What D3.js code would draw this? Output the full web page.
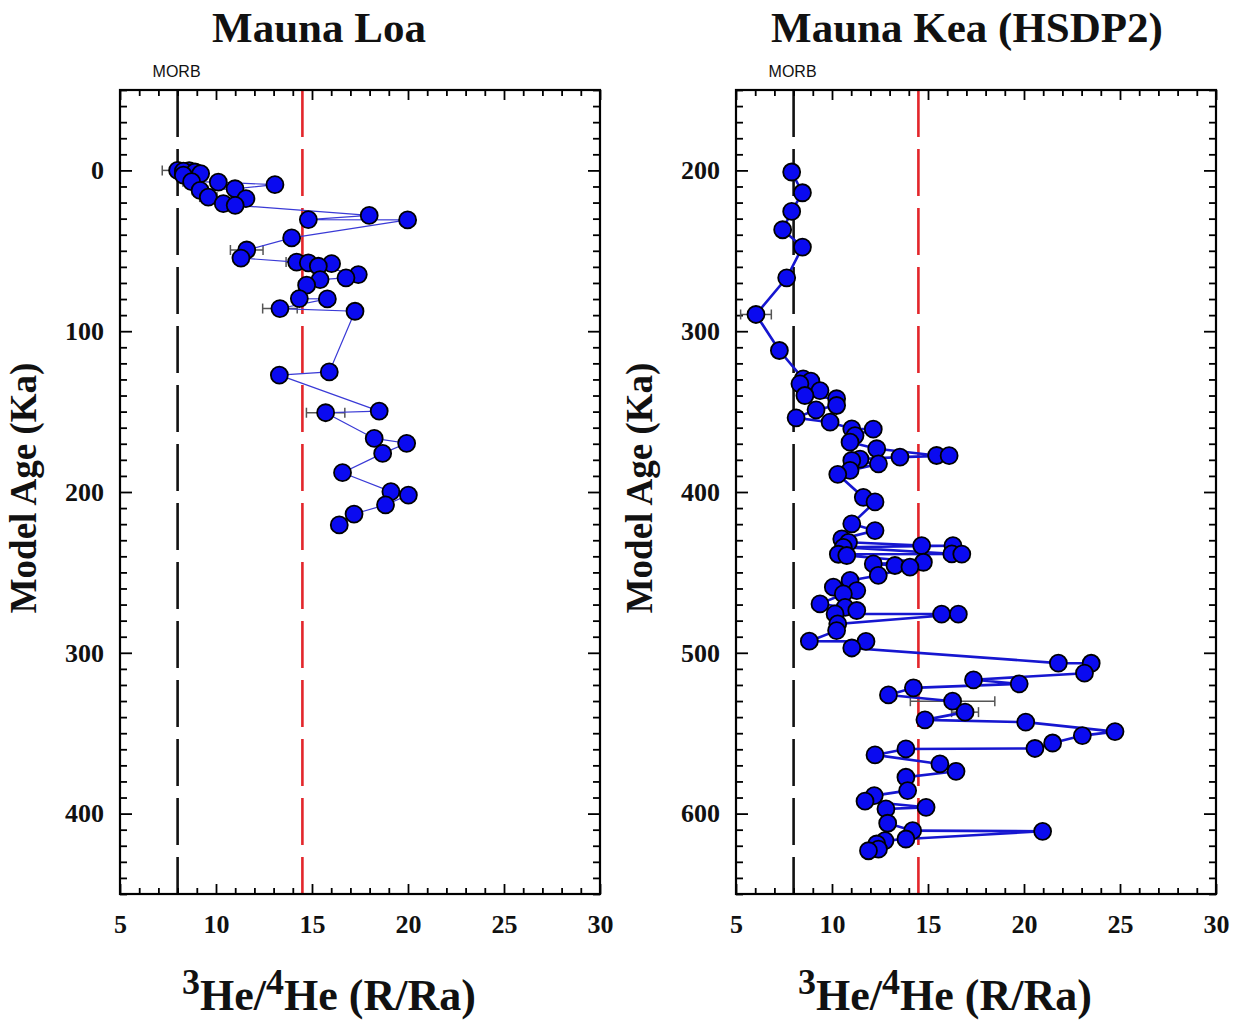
<!DOCTYPE html>
<html><head><meta charset="utf-8">
<script src="https://cdn.jsdelivr.net/npm/d3@7"></script>
<style>body{margin:0;background:#fff}</style>
</head><body>
<svg id="c" width="1237" height="1020"></svg>
<script>
// ---------- data ----------
const xTicks = [5, 10, 15, 20, 25, 30];
const loaAgeTicks = [0, 100, 200, 300, 400];
const keaAgeTicks = [200, 300, 400, 500, 600];
const morbValue = 8;
const plumeValue = 14.5;

// Mauna Loa: 3He/4He (R/Ra), model age (ka), error (R/Ra, 0 = none)
const loaRatio = [8.0, 8.6, 8.3, 8.9, 9.2, 8.3, 8.73, 10.12, 13.07, 10.99, 9.17, 9.6, 11.56, 10.38, 11.0,
  17.98, 14.81, 19.98, 13.94, 11.6, 11.3, 14.2, 14.81, 16.02, 15.33, 17.41, 16.77, 15.42, 14.72, 14.34, 15.8,
  13.33, 17.24, 15.9, 13.3, 18.5, 15.71, 18.24, 19.93, 18.68, 16.59, 19.11, 20.02, 18.83, 17.19, 16.42];
const loaAge = [0, 0.2, 0.5, 1, 2, 3, 7, 7.3, 8.9, 11.4, 12.4, 16.6, 17.6, 20.7, 21.7,
  28, 30.6, 30.8, 42, 49.5, 54.5, 57, 57.5, 58, 59.6, 64.8, 66.8, 67.9, 71.4, 79.7, 79.9,
  85.9, 87.6, 125.3, 127.3, 149.7, 150.7, 166.7, 169.7, 176, 188, 199.8, 201.9, 208, 213.7, 220.5];
const loaErr = [0.8, 0, 0, 0, 0, 0, 0.45, 0, 0, 0, 0.4, 0.45, 0, 0, 0,
  0, 0, 0, 0, 0.85, 0, 0.55, 0, 0, 0, 0, 0, 0, 0.4, 0, 0,
  0.9, 0, 0, 0, 0, 1.0, 0, 0, 0, 0, 0, 0, 0, 0, 0];

// Mauna Kea (HSDP2)
const keaRatio = [7.9, 8.46, 7.9, 7.43, 8.46, 7.64, 6.04, 7.26, 8.5, 8.9, 8.33, 9.375, 8.59, 10.24, 10.24,
  9.17, 8.13, 9.9, 11.03, 12.15, 11.2, 10.94, 12.33, 15.45, 16.1, 13.54, 11.46, 11.03, 12.42, 10.94,
  10.3, 11.63, 12.24, 11.03, 12.24, 10.51, 10.86, 14.67, 16.3, 10.59, 16.24, 16.76, 10.33, 10.77, 14.76,
  12.15, 13.28, 14.06, 12.41, 10.94, 10.07, 11.29, 10.59, 9.375, 10.68, 11.29, 10.16, 15.71, 16.58, 10.3,
  10.24, 8.82, 11.77, 11.03, 21.79, 23.5, 23.15, 17.37, 19.75, 14.24, 12.94, 16.28, 16.93, 14.84, 20.09,
  24.74, 23.04, 21.49, 20.57, 13.85, 12.24, 15.62, 16.46, 13.85, 13.94, 12.2, 11.72, 14.9, 12.81, 12.9,
  14.2, 20.97, 13.85, 12.76, 12.33, 12.42, 11.9];
const keaAge = [201, 213.9, 225.5, 236.9, 247.7, 266.8, 289.6, 312, 329.6, 331, 332.7, 336.9, 340, 342, 346.2,
  348.9, 353.9, 356.6, 360.7, 360.9, 364.9, 369, 373.1, 377.3, 377.4, 378.3, 379.5, 380.4, 382.5, 386.6,
  389, 403.3, 406.2, 419.8, 424, 429.2, 431.3, 433.3, 433.4, 434.4, 438.5, 438.6, 438.7, 439.5, 443.7,
  444.7, 445.7, 446.7, 451.9, 455, 459.2, 461.3, 463.4, 469.6, 471.7, 473.7, 475.8, 475.9, 476, 482,
  486.2, 492.8, 492.9, 497, 506.4, 506.5, 512.7, 516.8, 519.3, 521.8, 526.2, 530.1, 536.9, 541.7, 543.1,
  549, 551.5, 556.1, 559.5, 559.8, 563.5, 569.1, 573.7, 577.4, 585.7, 588.8, 592.3, 596.1, 597.1, 606,
  610.6, 611, 615.8, 616.8, 618.9, 622.1, 623.1];
const keaErr = keaAge.map((a) => a === 289.6 ? 0.8 : a === 312 ? 0.3 : a === 530.1 ? 2.2 : a === 536.9 ? 0.7 : a === 247.7 ? 0.25 : 0);

// ---------- drawing ----------
const svg = d3.select("#c");
const serif = "'Liberation Serif','Times New Roman',serif";
const sans = "'Liberation Sans',Arial,sans-serif";

const panels = [
  {title: "Mauna Loa", left: 120, right: 600, top: 90, bottom: 894, yDomain: [-50, 450], yTicks: loaAgeTicks,
   ratio: loaRatio, age: loaAge, err: loaErr, lineW: 1.2, lineC: "#3a3ad6", titleX: 319, ylabX: 36},
  {title: "Mauna Kea (HSDP2)", left: 736, right: 1216, top: 90, bottom: 894, yDomain: [150, 650], yTicks: keaAgeTicks,
   ratio: keaRatio, age: keaAge, err: keaErr, lineW: 2.6, lineC: "#1616d0", titleX: 967, ylabX: 652}
];

panels.forEach(p => {
  const x = d3.scaleLinear().domain([5, 30]).range([p.left, p.right]);
  const y = d3.scaleLinear().domain(p.yDomain).range([p.top, p.bottom]);
  const g = svg.append("g");
  const xMinor = d3.range(5, 31, 1).filter(v => !xTicks.includes(v));
  const yMinor = d3.range(p.yDomain[0], p.yDomain[1] + 1, 10).filter(v => !p.yTicks.includes(v));

  // reference lines
  g.append("line").attr("x1", x(morbValue)).attr("x2", x(morbValue)).attr("y1", p.top).attr("y2", p.bottom)
    .attr("stroke", "#111").attr("stroke-width", 2.6).attr("stroke-dasharray", "47,12");
  g.append("line").attr("x1", x(plumeValue)).attr("x2", x(plumeValue)).attr("y1", p.top).attr("y2", p.bottom)
    .attr("stroke", "#e3262b").attr("stroke-width", 2.6).attr("stroke-dasharray", "47,12");
  g.append("text").attr("x", x(morbValue) - 25).attr("y", p.top - 13).text("MORB")
    .attr("font-family", sans).attr("font-size", 16).attr("fill", "#111");

  // axes
  const axStyle = sel => { sel.select(".domain").remove(); sel.selectAll("line").attr("stroke", "#000").attr("stroke-width", 1.8); };
  g.append("g").attr("transform", `translate(0,${p.bottom})`)
    .call(d3.axisBottom(x).tickValues(xTicks).tickSize(-10).tickPadding(21).tickFormat(d3.format("d")))
    .call(axStyle).selectAll("text").attr("font-family", serif).attr("font-weight", "bold").attr("font-size", 26).attr("fill", "#111");
  g.append("g").attr("transform", `translate(0,${p.bottom})`)
    .call(d3.axisBottom(x).tickValues(xMinor).tickSize(-6).tickFormat("")).call(axStyle);
  g.append("g").attr("transform", `translate(0,${p.top})`)
    .call(d3.axisTop(x).tickValues(xTicks).tickSize(-10).tickFormat("")).call(axStyle);
  g.append("g").attr("transform", `translate(0,${p.top})`)
    .call(d3.axisTop(x).tickValues(xMinor).tickSize(-6).tickFormat("")).call(axStyle);
  g.append("g").attr("transform", `translate(${p.left},0)`)
    .call(d3.axisLeft(y).tickValues(p.yTicks).tickSize(-12).tickPadding(16).tickFormat(d3.format("d")))
    .call(axStyle).selectAll("text").attr("font-family", serif).attr("font-weight", "bold").attr("font-size", 26).attr("fill", "#111");
  g.append("g").attr("transform", `translate(${p.left},0)`)
    .call(d3.axisLeft(y).tickValues(yMinor).tickSize(-7).tickFormat("")).call(axStyle);
  g.append("g").attr("transform", `translate(${p.right},0)`)
    .call(d3.axisRight(y).tickValues(p.yTicks).tickSize(-12).tickFormat("")).call(axStyle);
  g.append("g").attr("transform", `translate(${p.right},0)`)
    .call(d3.axisRight(y).tickValues(yMinor).tickSize(-7).tickFormat("")).call(axStyle);

  // frame
  g.append("rect").attr("x", p.left).attr("y", p.top).attr("width", p.right - p.left).attr("height", p.bottom - p.top)
    .attr("fill", "none").attr("stroke", "#000").attr("stroke-width", 2.2);

  // data
  const pts = p.ratio.map((r, i) => ({r, a: p.age[i], e: p.err[i]}));
  g.append("g").selectAll("g.eb").data(pts.filter(d => d.e > 0)).join("g").each(function(d) {
    const s = d3.select(this), yy = y(d.a);
    s.append("line").attr("x1", x(d.r - d.e)).attr("x2", x(d.r + d.e)).attr("y1", yy).attr("y2", yy);
    s.append("line").attr("x1", x(d.r - d.e)).attr("x2", x(d.r - d.e)).attr("y1", yy - 5).attr("y2", yy + 5);
    s.append("line").attr("x1", x(d.r + d.e)).attr("x2", x(d.r + d.e)).attr("y1", yy - 5).attr("y2", yy + 5);
    s.selectAll("line").attr("stroke", "#555").attr("stroke-width", 1.5);
  });
  g.append("path").datum(pts).attr("d", d3.line().x(d => x(d.r)).y(d => y(d.a)))
    .attr("fill", "none").attr("stroke", p.lineC).attr("stroke-width", p.lineW);
  g.append("g").selectAll("circle").data(pts).join("circle")
    .attr("cx", d => x(d.r)).attr("cy", d => y(d.a)).attr("r", 8.5)
    .attr("fill", "#0a0af0").attr("stroke", "#000").attr("stroke-width", 1.8);

  // titles
  g.append("text").attr("x", p.titleX).attr("y", 42).attr("text-anchor", "middle").text(p.title)
    .attr("font-family", serif).attr("font-weight", "bold").attr("font-size", 43).attr("fill", "#111");
  g.append("text").attr("transform", `translate(${p.ylabX},488) rotate(-90)`).attr("text-anchor", "middle")
    .text("Model Age (Ka)").attr("font-family", serif).attr("font-weight", "bold").attr("font-size", 37).attr("fill", "#111");
  const xt = g.append("text").attr("x", (p.left + p.right) / 2 - 31).attr("y", 1010).attr("text-anchor", "middle")
    .attr("font-family", serif).attr("font-weight", "bold").attr("font-size", 44).attr("fill", "#111");
  xt.append("tspan").attr("dy", -16).attr("font-size", 36).text("3");
  xt.append("tspan").attr("dy", 16).text("He/");
  xt.append("tspan").attr("dy", -16).attr("font-size", 36).text("4");
  xt.append("tspan").attr("dy", 16).text("He (R/Ra)");
});
</script>
</body></html>
